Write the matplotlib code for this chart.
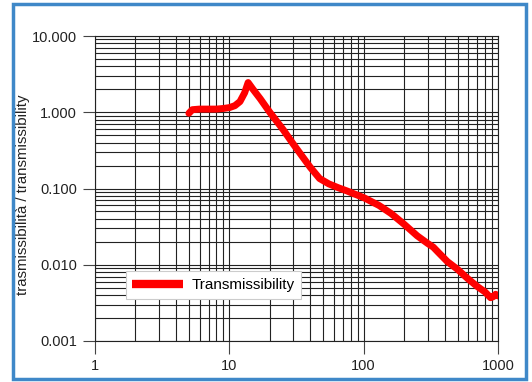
import matplotlib
matplotlib.use('Agg')
import matplotlib.pyplot as plt
from matplotlib.patches import Rectangle
from matplotlib.ticker import LogLocator, FixedLocator, NullFormatter

plt.rcParams['font.family'] = ['Liberation Sans', 'DejaVu Sans']

# Dati
freq = [5, 5.3, 6, 7, 8, 9, 10, 11, 12, 13, 13.8, 15, 17, 20, 25, 30, 40,
        47, 55, 65, 75, 85, 100, 130, 160, 200, 250, 300, 330, 360, 420,
        500, 600, 700, 800, 880, 920, 960, 1000]
trans = [0.97, 1.08, 1.1, 1.1, 1.1, 1.12, 1.15, 1.22, 1.38, 1.8, 2.45, 2.0,
         1.5, 1.0, 0.6, 0.38, 0.19, 0.135, 0.115, 0.102, 0.093, 0.085,
         0.076, 0.06, 0.047, 0.034, 0.024, 0.019, 0.017, 0.0145, 0.011,
         0.0087, 0.0065, 0.0052, 0.0044, 0.0037, 0.0038, 0.0041, 0.0039]
xticks = [1, 10, 100, 1000]
yticks = [0.001, 0.01, 0.1, 1, 10]
ylabels = ['0.001', '0.010', '0.100', '1.000', '10.000']

fig = plt.figure(figsize=(5.32, 3.82), dpi=100)
ax = fig.add_axes([95 / 532, 1 - 341 / 382, 403 / 532, 305 / 382])

ax.plot(freq, trans, color='#ff0000', linewidth=5, solid_capstyle='round',
        solid_joinstyle='round', label='Transmissibility', zorder=3)

ax.set_xscale('log')
ax.set_yscale('log')
ax.set_xlim(1, 1000)
ax.set_ylim(0.001, 10)

ax.xaxis.set_major_locator(FixedLocator(xticks))
ax.set_xticklabels([str(v) for v in xticks])
ax.yaxis.set_major_locator(FixedLocator(yticks))
ax.set_yticklabels(ylabels)
ax.xaxis.set_minor_locator(LogLocator(base=10, subs=range(2, 10)))
ax.yaxis.set_minor_locator(LogLocator(base=10, subs=range(2, 10)))
ax.xaxis.set_minor_formatter(NullFormatter())
ax.yaxis.set_minor_formatter(NullFormatter())

ax.grid(True, which='both', color='#222222', linewidth=0.8)
ax.tick_params(which='major', length=9, width=0.8, color='#444444',
               labelsize=10.5, labelcolor='#222222', pad=4)
ax.tick_params(which='minor', length=0)
for s in ax.spines.values():
    s.set_color('#222222')
    s.set_linewidth(0.8)

ax.set_ylabel('trasmissibilità / transmissibility', fontsize=10.8,
              color='#222222')
ax.yaxis.set_label_coords(-0.161, 0.48)

leg = ax.legend(loc='lower left', bbox_to_anchor=(0.057, 0.112),
                fontsize=11, fancybox=False, framealpha=1,
                edgecolor='#cccccc', handlelength=3.3, handletextpad=0.55,
                borderpad=0.45)
leg.get_frame().set_linewidth(0.8)
h = leg.legend_handles[0]
h.set_linewidth(6)
h.set_solid_capstyle('butt')

# cornice blu attorno alla figura
fig.patches.append(Rectangle((13 / 532, 3 / 382), 513 / 532, 375 / 382,
                             transform=fig.transFigure, fill=False,
                             edgecolor='#3f88c8', linewidth=2.5))

fig.savefig('out.png', dpi=100)
